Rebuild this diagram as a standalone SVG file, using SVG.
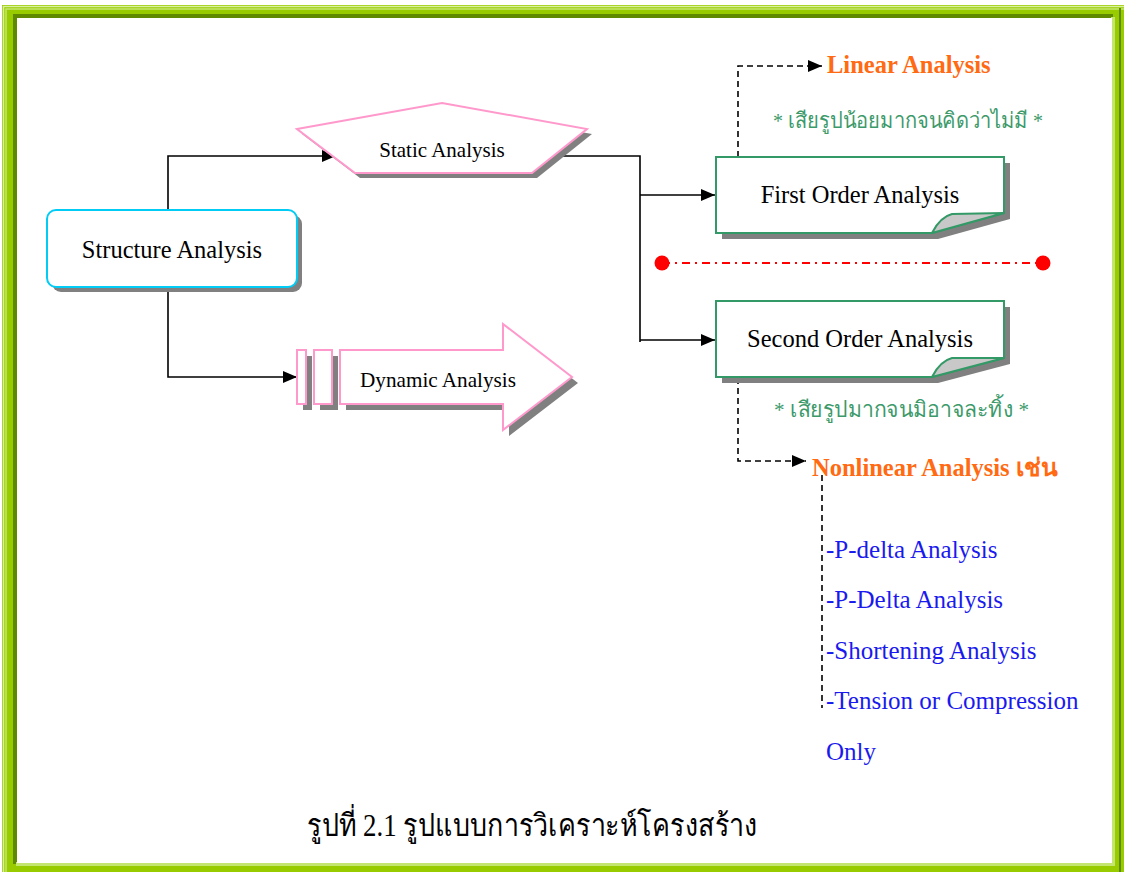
<svg xmlns="http://www.w3.org/2000/svg" width="1124" height="872" viewBox="0 0 1124 872">
<defs>
<style>
.serif{font-family:"Liberation Serif","Times New Roman",serif;}
.lbl{font-family:"Liberation Serif","Times New Roman",serif;fill:#000;text-anchor:middle;}
.solid{fill:none;stroke:#000;stroke-width:1.6;}
.dash{fill:none;stroke:#000;stroke-width:1.6;stroke-dasharray:6,4;}
.shadow{fill:#808080;stroke:none;}
.pink{fill:#fff;stroke:#ff99cc;stroke-width:2;}
.note{fill:#fff;stroke:#339966;stroke-width:2;}
.fold{fill:#c8c8c8;stroke:#339966;stroke-width:2;stroke-linejoin:round;}
.orange{font-family:"Liberation Serif","Times New Roman",serif;font-weight:bold;fill:#ff6a13;font-size:24.5px;}
.green{font-family:"Liberation Serif","Times New Roman",serif;fill:#3c9a6a;font-size:22px;}
.blue{font-family:"Liberation Serif","Times New Roman",serif;fill:#1a1aee;font-size:25px;}
</style>
<marker id="arr" viewBox="0 0 14 12" refX="14" refY="6" markerWidth="14" markerHeight="12" markerUnits="userSpaceOnUse" orient="auto">
<path d="M0,0 L14,6 L0,12 Z" fill="#000"/>
</marker>
</defs>
<!-- frame -->
<g id="frame">
<rect x="0" y="0" width="1124" height="872" fill="#fff"/>
<rect x="2" y="5" width="1122" height="867" fill="#99cc00"/>
<path d="M3.5,872 V6.5 H1124" fill="none" stroke="#d8f0a0" stroke-width="1.5"/>
<path d="M6,872 V9 H1124" fill="none" stroke="#c4e670" stroke-width="1.5"/>
<rect x="13" y="14" width="1100" height="4" fill="#5f8a00"/>
<rect x="13" y="14" width="4" height="850" fill="#5f8a00"/>
<rect x="1119" y="8" width="2" height="864" fill="#5f8a00"/>
<rect x="1111" y="17" width="4" height="849" fill="#c4e670"/>
<rect x="16" y="862" width="1099" height="4" fill="#c4e670"/>
<rect x="17" y="18" width="1095" height="845" fill="#fff"/>
</g>
<!-- connectors -->
<g id="connectors">
<polyline class="solid" points="168,210 168,156 336,156" marker-end="url(#arr)"/>
<polyline class="solid" points="168,287 168,377 297,377" marker-end="url(#arr)"/>
<polyline class="solid" points="562,156 640,156 640,342"/>
<polyline class="solid" points="640,195 715,195" marker-end="url(#arr)"/>
<polyline class="solid" points="640,340 715,340" marker-end="url(#arr)"/>
<polyline class="dash" points="738,157 738,66 822,66" marker-end="url(#arr)"/>
<polyline class="dash" points="738,378 738,461 806,461" marker-end="url(#arr)"/>
<line class="dash" x1="822" y1="475" x2="822" y2="708"/>
<line x1="662" y1="263" x2="1043" y2="263" stroke="#ff0000" stroke-width="2" stroke-dasharray="8,5,2,5"/>
<circle cx="662" cy="263" r="7.5" fill="#ff0000"/>
<circle cx="1043" cy="263" r="7.5" fill="#ff0000"/>
</g>
<!-- Structure Analysis -->
<g id="structure">
<rect class="shadow" x="52" y="215" width="250" height="77" rx="9"/>
<rect x="47" y="210" width="250" height="77" rx="9" fill="#fff" stroke="#00ccf5" stroke-width="2"/>
<text class="lbl" x="172" y="258" font-size="24.5">Structure Analysis</text>
</g>
<!-- Static Analysis -->
<g id="static">
<polygon class="shadow" points="302,134 447,108 592,134 537,178 360,178"/>
<polygon class="pink" points="297,129 442,103 587,129 532,173 355,173"/>
<text class="lbl" x="442" y="157" font-size="21">Static Analysis</text>
</g>
<!-- Dynamic Analysis -->
<g id="dynamic">
<rect class="shadow" x="303" y="356" width="9" height="54"/>
<rect class="shadow" x="320" y="356" width="18" height="54"/>
<polygon class="shadow" points="346,356 509,356 509,330 578,383 509,436 509,410 346,410"/>
<rect class="pink" x="297" y="350" width="9" height="54"/>
<rect class="pink" x="314" y="350" width="18" height="54"/>
<polygon class="pink" points="340,350 503,350 503,324 572,377 503,430 503,404 340,404"/>
<text class="lbl" x="438" y="387" font-size="21.2">Dynamic Analysis</text>
</g>
<!-- First Order Analysis -->
<g id="first-order">
<path class="shadow" d="M722,163 H1010 V219 L938,239 H722 Z"/>
<path class="note" d="M716,157 H1004 V213 L932,233 H716 Z"/>
<path class="fold" d="M932,233 Q940,217 952,214 L1004,213 Z"/>
<text class="lbl" x="860" y="203" font-size="24.5">First Order Analysis</text>
</g>
<!-- Second Order Analysis -->
<g id="second-order">
<path class="shadow" d="M722,307 H1010 V364 L938,383 H722 Z"/>
<path class="note" d="M716,301 H1004 V358 L932,377 H716 Z"/>
<path class="fold" d="M932,377 Q940,361 952,358 L1004,358 Z"/>
<text class="lbl" x="860" y="347" font-size="24.5">Second Order Analysis</text>
</g>
<!-- Linear -->
<g id="linear">
<text class="orange" x="827" y="73">Linear Analysis</text>
<text class="green" x="773" y="128" textLength="270" lengthAdjust="spacingAndGlyphs">* เสียรูปน้อยมากจนคิดว่าไม่มี *</text>
</g>
<!-- Nonlinear -->
<g id="nonlinear">
<text class="green" x="774" y="417" textLength="255" lengthAdjust="spacingAndGlyphs">* เสียรูปมากจนมิอาจละทิ้ง *</text>
<text class="orange" x="812" y="476">Nonlinear Analysis เช่น</text>
<text class="blue" x="826" y="558">-P-delta Analysis</text>
<text class="blue" x="826" y="608">-P-Delta Analysis</text>
<text class="blue" x="826" y="659">-Shortening Analysis</text>
<text class="blue" x="826" y="709">-Tension or Compression</text>
<text class="blue" x="826" y="760">Only</text>
</g>
<!-- caption -->
<g id="caption">
<text class="serif" x="307" y="836" font-size="31" fill="#000" textLength="450" lengthAdjust="spacingAndGlyphs">รูปที่ 2.1 รูปแบบการวิเคราะห์โครงสร้าง</text>
</g>
</svg>
